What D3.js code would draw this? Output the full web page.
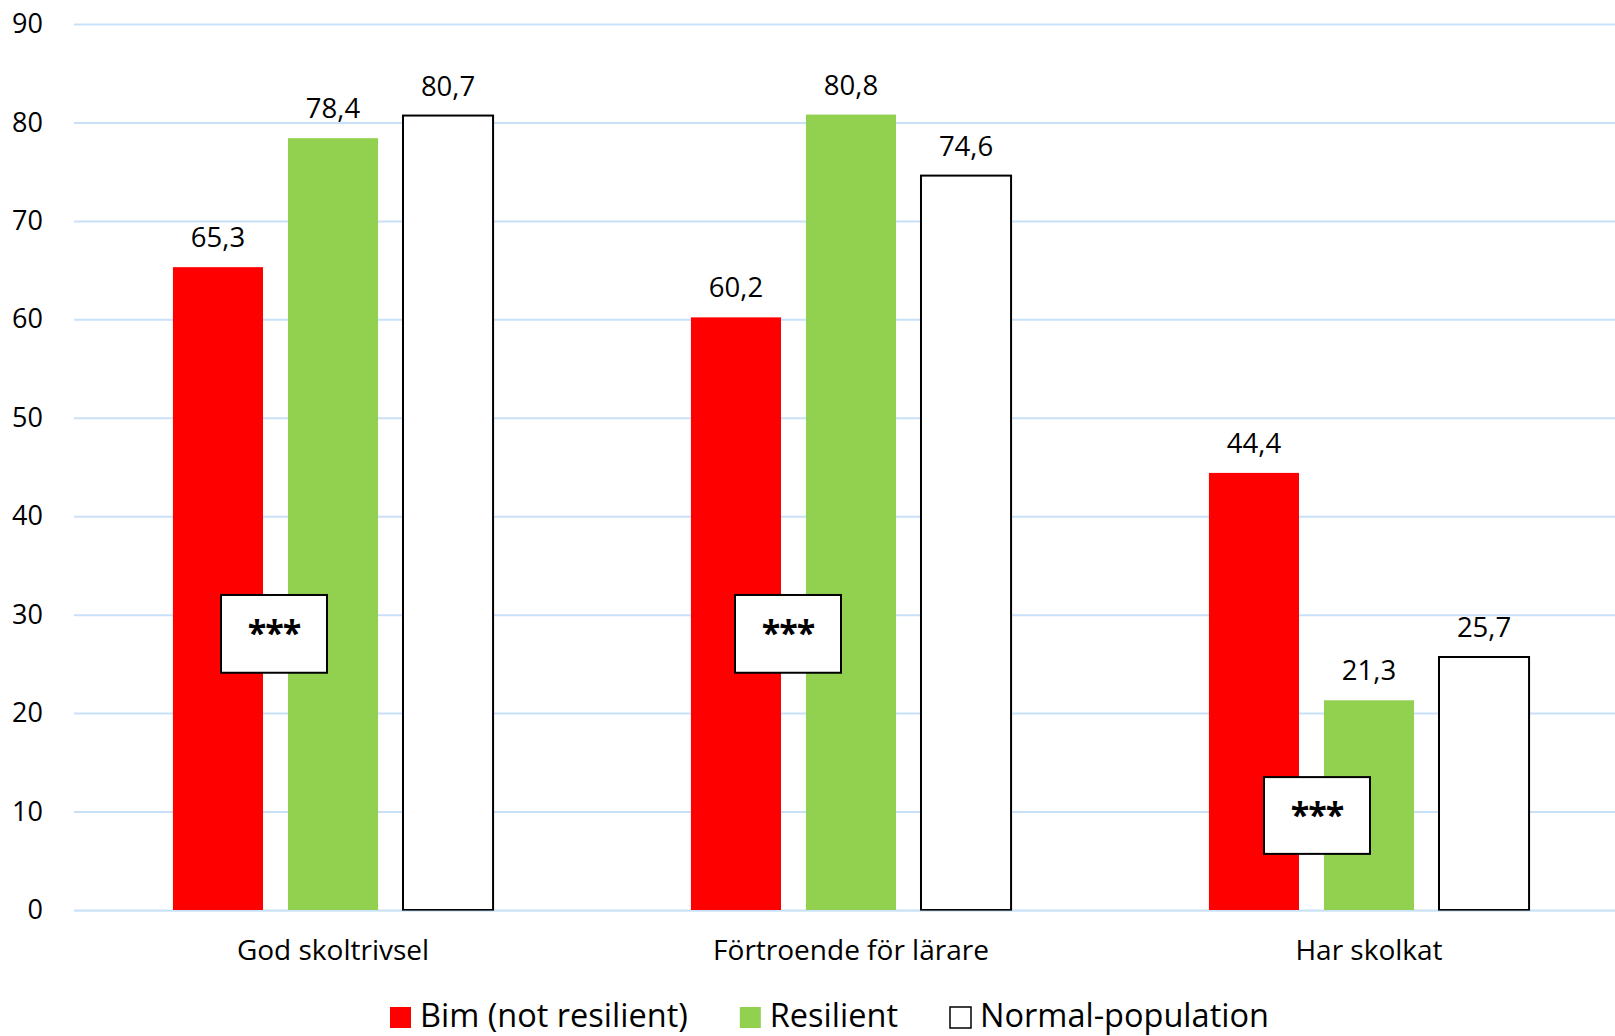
<!DOCTYPE html>
<html>
<head>
<meta charset="utf-8">
<script src="https://cdn.jsdelivr.net/npm/d3@7"></script>
<style>
  html, body { margin: 0; padding: 0; background: #fff; }
  svg { display: block; }
  text { font-family: "Open Sans", sans-serif; fill: #000; }
</style>
</head>
<body>
<svg id="chart" width="1615" height="1036"></svg>
<script>
// ---- data ----
const categories = ["God skoltrivsel", "Förtroende för lärare", "Har skolkat"];
const seriesNames = ["Bim (not resilient)", "Resilient", "Normal-population"];
const bimValues = [65.3, 60.2, 44.4];
const resilientValues = [78.4, 80.8, 21.3];
const normalValues = [80.7, 74.6, 25.7];
const yTicks = [0, 10, 20, 30, 40, 50, 60, 70, 80, 90];
const annotationLabels = ["***", "***", "***"];
const annotationTop = [32, 32, 13.5];     // value at top of each significance box
const annotationBottom = [24.1, 24.1, 5.7];

// ---- layout ----
const W = 1615, H = 1036;
const plotLeft = 74, plotRight = 1628, plotTop = 24, plotBottom = 910;
const colors = ["#FF0000", "#92D050", "#FFFFFF"];
const seriesValues = [bimValues, resilientValues, normalValues];

const svg = d3.select("#chart");

const x0 = d3.scaleBand().domain(categories).range([plotLeft, plotRight]).paddingInner(0).paddingOuter(0);
const innerW = x0.bandwidth() * 0.618;
const x1 = d3.scaleBand().domain(d3.range(seriesNames.length))
  .range([(x0.bandwidth() - innerW) / 2, (x0.bandwidth() + innerW) / 2])
  .paddingInner(0.217).paddingOuter(0);
const y = d3.scaleLinear().domain([0, 90]).range([plotBottom, plotTop]);

// gridlines
const yAxis = d3.axisLeft(y).tickValues(yTicks).tickSize(-(W - plotLeft)).tickFormat(d => d).tickPadding(31);
const gy = svg.append("g").attr("transform", `translate(${plotLeft},0)`).call(yAxis);
gy.select(".domain").remove();
gy.selectAll(".tick line").attr("stroke", "#C9E1F8").attr("stroke-width", 2);
gy.selectAll(".tick text").attr("font-size", 27).attr("fill", "#000")
  .attr("dy", "0.32em");

// bars
const groups = svg.append("g").selectAll("g").data(categories).join("g")
  .attr("transform", d => `translate(${x0(d)},0)`);

groups.each(function(cat, ci) {
  const g = d3.select(this);
  seriesValues.forEach((vals, si) => {
    const v = vals[ci];
    g.append("rect")
      .attr("x", x1(si))
      .attr("y", y(v))
      .attr("width", x1.bandwidth())
      .attr("height", y(0) - y(v))
      .attr("fill", colors[si])
      .attr("stroke", si === 2 ? "#000" : "none")
      .attr("stroke-width", si === 2 ? 2 : 0);
    g.append("text")
      .attr("x", x1(si) + x1.bandwidth() / 2)
      .attr("y", y(v) - 20)
      .attr("text-anchor", "middle")
      .attr("font-size", 27.5)
      .text(String(v.toFixed(1)).replace(".", ","));
  });
});

// baseline bluish over white bars
svg.append("line").attr("x1", plotLeft).attr("x2", W).attr("y1", y(0) + 1).attr("y2", y(0) + 1)
  .attr("stroke", "#C9E1F8").attr("stroke-width", 1.2).attr("opacity", 0.8);

// category labels
const xAxis = d3.axisBottom(x0).tickSize(0).tickPadding(0);
const gx = svg.append("g").attr("transform", `translate(0,${plotBottom})`).call(xAxis);
gx.select(".domain").remove();
gx.selectAll(".tick text").attr("font-size", 28).attr("fill", "#000")
  .attr("dy", null).attr("y", 50);

// significance boxes
const annOffsets = [-59, -63, -52];
categories.forEach((cat, i) => {
  const cx = x0(cat) + x0.bandwidth() / 2 + annOffsets[i];
  const top = y(annotationTop[i]), bot = y(annotationBottom[i]);
  const bw = 106;
  svg.append("rect").attr("x", cx - bw / 2).attr("y", top).attr("width", bw).attr("height", bot - top)
    .attr("fill", "#fff").attr("stroke", "#000").attr("stroke-width", 2);
  svg.append("text").attr("x", cx).attr("y", top + 50).attr("text-anchor", "middle")
    .attr("font-family", "'DejaVu Sans', sans-serif")
    .attr("font-size", 34).attr("font-weight", "bold").attr("letter-spacing", -1).text(annotationLabels[i]);
});

// legend
const legend = svg.append("g");
let lx = 390;
const ly = 1007;
seriesNames.forEach((name, i) => {
  legend.append("rect").attr("x", lx).attr("y", ly).attr("width", 21).attr("height", 21)
    .attr("fill", colors[i]).attr("stroke", i === 2 ? "#000" : "none").attr("stroke-width", 1.5);
  const t = legend.append("text").attr("x", lx + 30).attr("y", ly + 20).attr("font-size", 32.5).text(name);
  lx = lx + 30 + t.node().getComputedTextLength() + 52;
});
</script>
</body>
</html>
